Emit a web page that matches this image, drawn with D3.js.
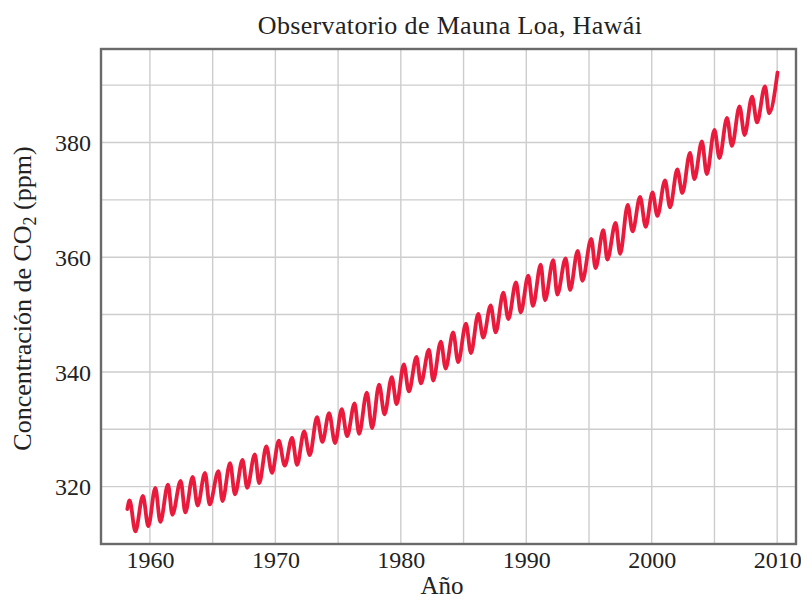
<!DOCTYPE html>
<html>
<head>
<meta charset="utf-8">
<script src="https://cdn.jsdelivr.net/npm/d3@7"></script>
<style>
  html, body { margin: 0; padding: 0; background: #fff; }
  svg { display: block; }
  text { font-family: "Liberation Serif", "Times New Roman", serif; fill: #222; }
</style>
</head>
<body>
<svg id="chart" width="801" height="598"></svg>
<script>
// ---- data ----
const title = "Observatorio de Mauna Loa, Hawái";
const xLabel = "Año";
const yLabelMain = "Concentración de CO";
const yLabelSub = "2";
const yLabelEnd = " (ppm)";

const xTickLabels = [1960, 1970, 1980, 1990, 2000, 2010];
const yTickLabels = [320, 340, 360, 380];
const xGrid = [1960, 1965, 1970, 1975, 1980, 1985, 1990, 1995, 2000, 2005, 2010];
const yGrid = [320, 330, 340, 350, 360, 370, 380, 390];

// first and last points of the curve
const startPoint = [1958.20, 316.1];
const endPoint = [2010.03, 392.2];

// seasonal maxima (time, ppm)
const peakTimes = [1958.38, 1959.44, 1960.43, 1961.44, 1962.45, 1963.41, 1964.39, 1965.46, 1966.39, 1967.38,
  1968.36, 1969.28, 1970.27, 1971.33, 1972.29, 1973.32, 1974.28, 1975.29, 1976.31, 1977.29,
  1978.27, 1979.28, 1980.24, 1981.25, 1982.24, 1983.19, 1984.17, 1985.19, 1986.17, 1987.16,
  1988.17, 1989.18, 1990.16, 1991.15, 1992.15, 1993.14, 1994.10, 1995.18, 1996.14, 1997.12,
  1998.09, 1999.07, 2000.06, 2001.06, 2002.04, 2003.05, 2004.00, 2005.00, 2006.00, 2007.00,
  2008.00, 2009.03];
const peakValues = [317.6, 318.4, 319.8, 320.35, 321.0, 321.7, 322.4, 322.7, 324.1, 324.65,
  325.6, 327.0, 328.0, 328.5, 329.65, 332.1, 332.8, 333.5, 334.5, 336.4,
  337.8, 339.1, 341.3, 342.6, 343.9, 345.3, 346.9, 348.4, 350.1, 351.6,
  353.8, 355.6, 356.8, 358.7, 359.5, 359.8, 361.1, 363.2, 364.7, 366.0,
  369.1, 370.5, 371.3, 373.4, 375.3, 378.2, 380.2, 382.2, 384.3, 386.3,
  388.0, 389.8];

// seasonal minima (time, ppm)
const troughTimes = [1958.84, 1959.87, 1960.83, 1961.79, 1962.82, 1963.80, 1964.76, 1965.78, 1966.78, 1967.75,
  1968.71, 1969.73, 1970.75, 1971.73, 1972.74, 1973.75, 1974.76, 1975.72, 1976.67, 1977.71,
  1978.70, 1979.66, 1980.64, 1981.60, 1982.58, 1983.57, 1984.57, 1985.59, 1986.57, 1987.56,
  1988.57, 1989.56, 1990.53, 1991.49, 1992.47, 1993.49, 1994.47, 1995.52, 1996.46, 1997.48,
  1998.47, 1999.52, 2000.45, 2001.46, 2002.44, 2003.40, 2004.39, 2005.40, 2006.39, 2007.40,
  2008.39, 2009.36];
const troughValues = [312.2, 313.1, 313.85, 315.1, 315.5, 316.7, 316.9, 317.5, 318.65, 319.8,
  320.6, 322.4, 323.65, 323.8, 325.5, 327.8, 327.6, 328.8, 329.2, 330.2,
  332.6, 334.4, 336.6, 338.0, 338.5, 340.6, 341.7, 343.3, 346.0, 346.9,
  349.2, 350.4, 351.5, 352.5, 353.5, 354.3, 355.9, 358.1, 359.6, 360.6,
  364.5, 365.3, 367.2, 368.7, 371.2, 373.6, 374.5, 377.3, 379.4, 381.3,
  383.5, 385.1];

// ---- drawing ----
const svg = d3.select("#chart");
const plot = { left: 101, right: 796, top: 49, bottom: 544 };

const x = d3.scaleLinear().domain([1956.1, 2011.5]).range([plot.left, plot.right]);
const y = d3.scaleLinear().domain([310, 396.3]).range([plot.bottom, plot.top]);

// gridlines
svg.append("g").selectAll("line.vg").data(xGrid).join("line")
  .attr("x1", d => x(d)).attr("x2", d => x(d))
  .attr("y1", plot.top).attr("y2", plot.bottom)
  .attr("stroke", "#cdcdcd").attr("stroke-width", 1.4);
svg.append("g").selectAll("line.hg").data(yGrid).join("line")
  .attr("x1", plot.left).attr("x2", plot.right)
  .attr("y1", d => y(d)).attr("y2", d => y(d))
  .attr("stroke", "#cdcdcd").attr("stroke-width", 1.4);

// curve
const pts = [startPoint]
  .concat(peakTimes.map((t, i) => [t, peakValues[i]]))
  .concat(troughTimes.map((t, i) => [t, troughValues[i]]))
  .concat([endPoint])
  .sort((a, b) => a[0] - b[0]);

const line = d3.line().x(d => x(d[0])).y(d => y(d[1])).curve(d3.curveMonotoneX);
svg.append("path").datum(pts).attr("d", line)
  .attr("fill", "none").attr("stroke", "#ea1a3c").attr("stroke-width", 3.8)
  .attr("stroke-linejoin", "round").attr("stroke-linecap", "round");

// frame
svg.append("rect")
  .attr("x", plot.left).attr("y", plot.top)
  .attr("width", plot.right - plot.left).attr("height", plot.bottom - plot.top)
  .attr("fill", "none").attr("stroke", "#6a6a6a").attr("stroke-width", 2.4);

// axes (labels only, no tick marks)
const xAxis = d3.axisBottom(x).tickValues(xTickLabels).tickFormat(d3.format("d")).tickSize(0).tickPadding(0);
const gx = svg.append("g").attr("transform", `translate(0,${plot.bottom})`).call(xAxis);
gx.select(".domain").remove();
gx.selectAll("text").attr("y", 24).attr("dy", 0).attr("font-size", 24)
  .style("font-family", "'Liberation Serif', serif").attr("fill", "#222");

const yAxis = d3.axisLeft(y).tickValues(yTickLabels).tickFormat(d3.format("d")).tickSize(0).tickPadding(10);
const gy = svg.append("g").attr("transform", `translate(${plot.left},0)`).call(yAxis);
gy.select(".domain").remove();
gy.selectAll("text").attr("font-size", 24).attr("dy", "0.34em")
  .style("font-family", "'Liberation Serif', serif").attr("fill", "#222");

// title
svg.append("text").attr("x", 450).attr("y", 34)
  .attr("text-anchor", "middle").attr("font-size", 26)
  .style("letter-spacing", "0.35px").text(title);

// x label
svg.append("text").attr("x", 442).attr("y", 594)
  .attr("text-anchor", "middle").attr("font-size", 25).text(xLabel);

// y label
const yl = svg.append("text")
  .attr("transform", `translate(31,${(plot.top + plot.bottom) / 2 + 2}) rotate(-90)`)
  .attr("text-anchor", "middle").attr("font-size", 26);
yl.append("tspan").text(yLabelMain);
yl.append("tspan").attr("font-size", 18).attr("dy", 5).text(yLabelSub);
yl.append("tspan").attr("dy", -5).text(yLabelEnd);
</script>
</body>
</html>
